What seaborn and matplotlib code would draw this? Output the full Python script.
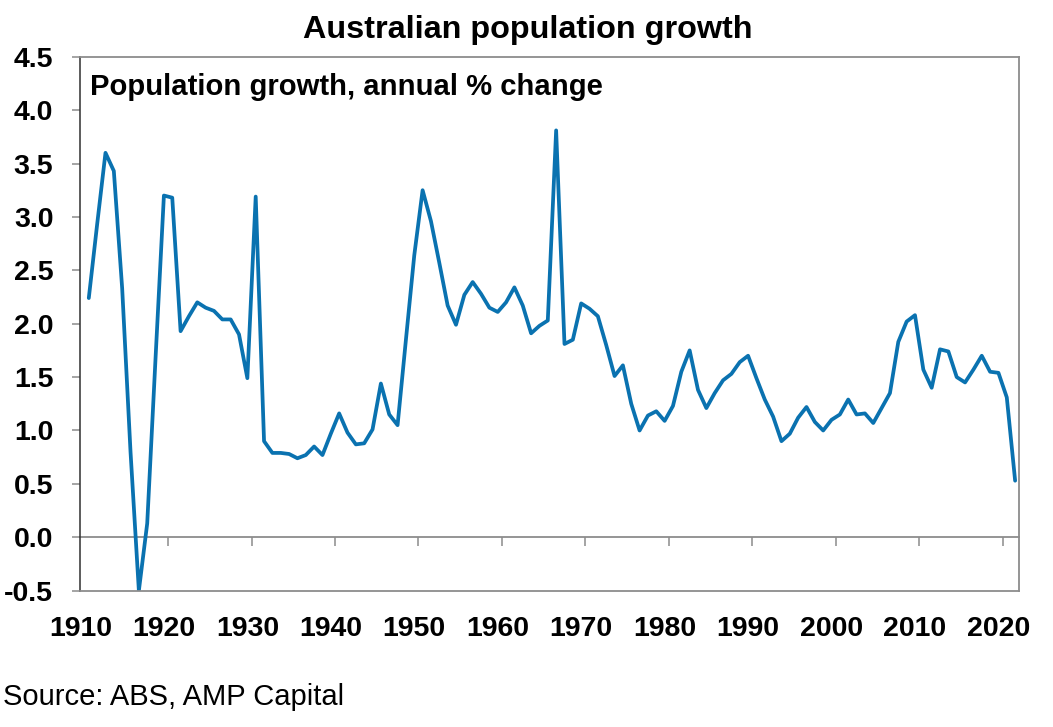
import pandas as pd
import matplotlib
matplotlib.use("Agg")
import matplotlib.pyplot as plt
import seaborn as sns

# annual % change in Australian population, 1910-2021
years = list(range(1910, 2022))
growth = [
    2.24, 2.93, 3.60, 3.43, 2.33, 0.80, -0.50, 0.13, 1.68, 3.20,
    3.18, 1.93, 2.07, 2.20, 2.15, 2.12, 2.04, 2.04, 1.90, 1.49,
    3.19, 0.90, 0.79, 0.79, 0.78, 0.74, 0.77, 0.85, 0.77, 0.97,
    1.16, 0.98, 0.87, 0.88, 1.01, 1.44, 1.15, 1.05, 1.85, 2.64,
    3.25, 2.96, 2.57, 2.17, 1.99, 2.27, 2.39, 2.28, 2.15, 2.11,
    2.20, 2.34, 2.17, 1.91, 1.98, 2.03, 3.81, 1.81, 1.85, 2.19,
    2.14, 2.07, 1.80, 1.51, 1.61, 1.25, 1.00, 1.14, 1.18, 1.09,
    1.23, 1.55, 1.75, 1.38, 1.21, 1.35, 1.47, 1.53, 1.64, 1.70,
    1.49, 1.29, 1.13, 0.90, 0.97, 1.12, 1.22, 1.08, 1.00, 1.10,
    1.15, 1.29, 1.15, 1.16, 1.07, 1.21, 1.35, 1.83, 2.02, 2.08,
    1.57, 1.40, 1.76, 1.74, 1.50, 1.45, 1.57, 1.70, 1.55, 1.54,
    1.31, 0.53,
]
label_years = [1910, 1920, 1930, 1940, 1950, 1960, 1970, 1980, 1990, 2000, 2010, 2020]
y_ticks = [-0.5, 0.0, 0.5, 1.0, 1.5, 2.0, 2.5, 3.0, 3.5, 4.0, 4.5]

line_color = "#0a72b0"
grey = "#8c8c8c"

sns.set_theme(style="white")
plt.rcParams["font.family"] = ["Liberation Sans", "DejaVu Sans"]
plt.rcParams["text.color"] = "black"
plt.rcParams["xtick.labelcolor"] = "black"
plt.rcParams["ytick.labelcolor"] = "black"

df = pd.DataFrame({"Year": years, "Growth": growth})

fig = plt.figure(figsize=(10.53, 7.27), dpi=100)
ax = fig.add_axes([0.0764, 0.1875, 0.8916, 0.7345])

sns.lineplot(data=df, x="Year", y="Growth", color=line_color, linewidth=2.7, ax=ax)

ax.set_xlim(years[0] - 0.5, years[-1] + 0.5)
ax.set_ylim(y_ticks[0], y_ticks[-1])
ax.set_xlabel("")
ax.set_ylabel("")

ax.set_yticks(y_ticks)
ax.set_yticklabels([f"{v:.1f}" for v in y_ticks], fontsize=20.5,
                   fontweight="bold", color="black")
ax.tick_params(axis="y", left=True, direction="out", length=5.8, width=1.1,
               color=grey, pad=13.7)

ax.set_xticks([y - 1 for y in label_years])
ax.set_xticklabels([str(y) for y in label_years], fontsize=20.5,
                   fontweight="bold", color="black")
ax.tick_params(axis="x", length=0, pad=18.4)

for side in ["top", "right", "bottom"]:
    ax.spines[side].set_color(grey)
    ax.spines[side].set_linewidth(1.3)
ax.spines["left"].set_color("#303030")
ax.spines["left"].set_linewidth(1.1)

# horizontal axis line at zero with decade ticks
zero_pos = (0 - y_ticks[0]) / (y_ticks[-1] - y_ticks[0])
zero_axis = ax.secondary_xaxis(zero_pos)
zero_axis.set_xticks([y - 0.5 for y in label_years[1:]])
zero_axis.set_xticklabels([])
zero_axis.tick_params(direction="out", length=6.7, width=1.1, color=grey)
zero_axis.spines["bottom"].set_color(grey)
zero_axis.spines["bottom"].set_linewidth(1.3)

fig.text(0.5014, 1 - 38 / 727, "Australian population growth", ha="center",
         va="baseline", fontsize=23.3, fontweight="bold", color="black")
fig.text(90 / 1053, 1 - 95 / 727, "Population growth, annual % change",
         ha="left", va="baseline", fontsize=21.1, fontweight="bold", color="black")
fig.text(3 / 1053, 1 - 705 / 727, "Source: ABS, AMP Capital", ha="left",
         va="baseline", fontsize=21.0, color="black")

fig.savefig("out.png", dpi=100)
